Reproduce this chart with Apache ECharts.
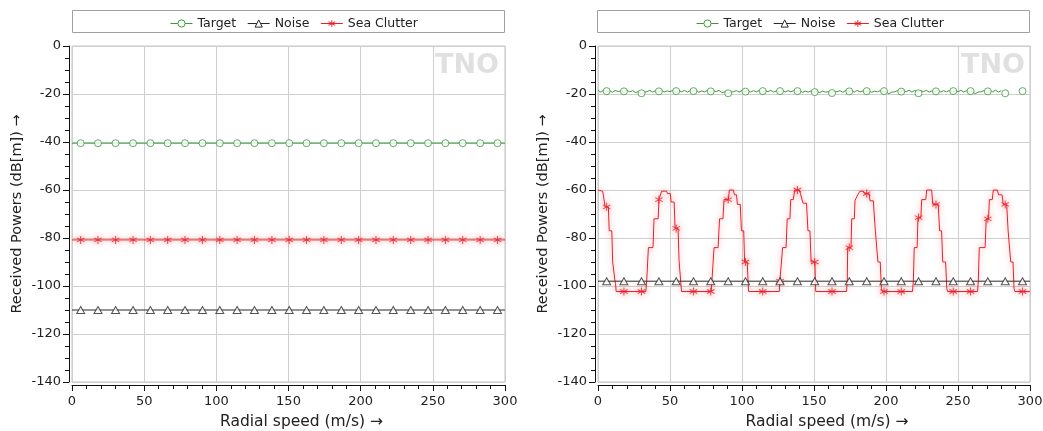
<!DOCTYPE html>
<html><head><meta charset="utf-8">
<script src="https://cdn.jsdelivr.net/npm/echarts@6/dist/echarts.min.js"></script>
<style>html,body{margin:0;padding:0;background:#fff}#c{width:1043px;height:431px}</style>
</head><body><div id="c"></div>
<script>
// ---------- DATA ----------
const legendNames = ['Target', 'Noise', 'Sea Clutter'];
const xTicks = [0, 50, 100, 150, 200, 250, 300];
const yTicks = [0, -20, -40, -60, -80, -100, -120, -140];

// speeds (m/s) where markers are drawn
const markerSpeeds = [6.0,18.0,30.2,42.3,54.3,66.3,78.3,90.4,102.4,114.4,126.4,138.5,150.5,162.5,174.5,186.6,198.6,210.6,222.6,234.7,246.7,258.7,270.7,282.8,294.8];

// ----- left chart -----
const leftLineSpeeds = [0, 300];
const leftTargetLine = [-40.5, -40.5];
const leftNoiseLine = [-110, -110];
const leftClutterLine = [-80.8, -80.8];
const leftTargetMarks = [-40.5,-40.5,-40.5,-40.5,-40.5,-40.5,-40.5,-40.5,-40.5,-40.5,-40.5,-40.5,-40.5,-40.5,-40.5,-40.5,-40.5,-40.5,-40.5,-40.5,-40.5,-40.5,-40.5,-40.5,-40.5];
const leftNoiseMarks = [-110,-110,-110,-110,-110,-110,-110,-110,-110,-110,-110,-110,-110,-110,-110,-110,-110,-110,-110,-110,-110,-110,-110,-110,-110];
const leftClutterMarks = [-80.8,-80.8,-80.8,-80.8,-80.8,-80.8,-80.8,-80.8,-80.8,-80.8,-80.8,-80.8,-80.8,-80.8,-80.8,-80.8,-80.8,-80.8,-80.8,-80.8,-80.8,-80.8,-80.8,-80.8,-80.8];

// ----- right chart -----
const rightTargetSpeeds = [0,2,4,6,8,10,12,14,16,18,20,22,24,26,28,30,32,34,36,38,40,42,44,46,48,50,52,54,56,58,60,62,64,66,68,70,72,74,76,78,80,82,84,86,88,90,92,94,96,98,100,102,104,106,108,110,112,114,116,118,120,122,124,126,128,130,132,134,136,138,140,142,144,146,148,150,152,154,156,158,160,162,164,166,168,170,172,174,176,178,180,182,184,186,188,190,192,194,196,198,200,202,204,206,208,210,212,214,216,218,220,222,224,226,228,230,232,234,236,238,240,242,244,246,248,250,252,254,256,258,260,262,264,266,268,270,272,274,276,278,280,282,284,286,288,290,292,294,296,298,300];
const rightTargetLine = [
 -18.5,-19.2,-18.4,-19.1,-18.6,-19.3,-18.5,-19.0,-18.7,-19.2,
 -18.4,-19.1,-18.6,-19.4,-19.0,-19.9,-19.3,-19.0,-18.5,-19.2,
 -18.6,-19.1,-18.4,-19.2,-18.7,-19.0,-18.5,-19.3,-18.6,-19.1,
 -18.5,-19.2,-18.6,-19.1,-18.4,-19.3,-18.7,-19.1,-18.5,-19.2,
 -18.6,-19.0,-18.5,-19.4,-19.1,-19.9,-19.2,-19.1,-18.6,-19.2,
 -18.5,-19.1,-18.4,-19.2,-18.6,-19.1,-18.5,-19.3,-18.6,-19.0,
 -18.5,-19.2,-18.7,-19.1,-18.4,-19.2,-18.6,-19.1,-18.5,-19.2,
 -18.6,-19.3,-18.8,-19.2,-18.7,-19.3,-19.0,-19.4,-18.8,-19.2,
 -19.1,-19.6,-19.0,-19.1,-18.6,-19.3,-18.5,-19.1,-18.6,-19.2,
 -18.5,-19.1,-18.7,-19.2,-18.6,-19.3,-18.8,-19.1,-18.6,-19.2,
 -19.0,-19.9,-19.2,-19.1,-18.6,-19.2,-18.5,-19.1,-18.4,-19.2,
 -18.5,-19.3,-18.6,-19.0,-18.5,-19.2,-18.7,-19.1,-18.4,-19.2,
 -18.6,-19.1,-18.5,-19.2,-18.6,-19.1,-18.5,-19.2,-18.6,-19.1,
 -19.0,-19.9,-19.2,-19.1,-18.6,-19.2,-18.5,-19.1,-18.4,-19.2,
 -18.6];
const rightTargetMarks = [-18.8,-18.9,-19.7,-18.9,-18.8,-18.8,-18.9,-19.7,-19.0,-18.8,-18.8,-18.8,-19.2,-19.6,-18.9,-18.8,-18.8,-19.0,-19.7,-18.9,-18.8,-18.8,-18.9,-19.7,-18.8];

const rightNoiseSpeeds = [0, 300];
const rightNoiseLine = [-98, -98];
const rightNoiseMarks = [-98,-98,-98,-98,-98,-98,-98,-98,-98,-98,-98,-98,-98,-98,-98,-98,-98,-98,-98,-98,-98,-98,-98,-98,-98];

const rightClutterSpeeds = [
 0,3.2,3.7,4.6,4.9,7.2,7.8,9.6,10.2,11.3,11.8,12.2,12.6,
 33.2,33.8,34.3,35.0,38.2,38.9,41.8,42.3,43.6,44.2,47.7,48.2,50.2,50.8,52.9,53.5,55.6,56.3,57.4,58.0,
 78.6,79.1,79.8,80.6,83.4,84.4,86.8,87.5,90.6,91.2,94.0,94.8,96.2,96.8,98.8,99.6,101.2,101.8,103.6,104.6,
 125.9,126.3,127.6,128.2,130.6,131.4,133.3,133.8,135.6,136.6,139.8,140.6,141.6,142.4,144.8,145.8,147.2,148.0,150.6,151.2,
 172.6,173.1,173.4,175.7,176.2,178.0,178.5,179.8,180.4,181.5,181.9,184.3,185.0,188.3,188.9,191.2,192.6,193.6,194.4,196.0,196.8,197.5,
 218.4,219.0,219.6,221.6,222.2,224.2,224.8,227.6,228.3,231.7,232.5,236.3,237.2,238.6,239.4,241.4,242.2,242.8,
 263.6,264.1,264.8,268.8,269.6,271.2,271.8,273.8,274.5,277.3,278.2,280.6,281.4,283.8,284.8,285.8,286.6,288.2,288.9,289.5,300];
const rightClutterLine = [
 -60,-60.5,-62,-62,-67,-67,-77,-77,-90,-90,-98,-99,-102.3,
 -102.3,-98,-98,-84,-84,-72,-72,-64,-64,-60.5,-60.5,-61.5,-61.5,-65,-65,-76,-76,-89.5,-89.5,-102.3,
 -102.3,-98,-98,-84,-84,-72,-72,-64,-64,-60,-60,-62,-62,-66,-66,-77,-77,-90,-90,-102.3,
 -102.3,-98,-98,-84,-84,-72,-72,-64,-64,-60,-60,-61.5,-61.5,-65.5,-65.5,-77,-77,-90,-90,-102.3,
 -102.3,-98,-84,-84,-72,-72,-64.3,-64.3,-62,-62,-60.5,-60.5,-61.5,-61.5,-64.5,-64.5,-77,-77,-90,-90,-101,-102.3,
 -102.3,-98,-84,-84,-71.5,-71.5,-64,-64,-60,-60,-66,-66,-77,-77,-90,-90,-101,-102.3,
 -102.3,-98,-84,-84,-72,-72,-64,-64,-60,-60,-62,-62,-66,-66,-77,-77,-90,-90,-101,-102.3,-102.3];
const rightClutterMarks = [-67,-102.3,-102.3,-64,-76,-102.3,-102.3,-64,-90,-102.3,-98,-60,-90,-102.3,-84,-61.5,-102.3,-102.3,-71.5,-66,-102.3,-102.3,-72,-66,-102.3];

// ---------- STYLE ----------
const FONT = 'DejaVu Sans';
const GREEN = '#3c9a3c', BLACK = '#2a2a2a', RED = '#e8202a';
const STAR = 'path://M4.4 0H5.6V10H4.4Z M0.97 8.02L0.37 6.98L9.03 1.98L9.63 3.02Z M9.63 6.98L9.03 8.02L0.37 3.02L0.97 1.98Z';

function zip(xs, ys) { return xs.map((x, i) => [x, ys[i]]); }

function makeSeries(g, d) {
  const base = { xAxisIndex: g, yAxisIndex: g, silent: true, animation: false, emphasis: { disabled: true } };
  const glow = { shadowBlur: 6, shadowColor: 'rgba(255,40,40,0.55)' };
  const hollow = c => ({ color: '#fff', borderColor: c, borderWidth: 1 });
  return [
    Object.assign({ type: 'line', name: 'Sea Clutter', data: zip(d.cs, d.cl), symbol: STAR, showSymbol: false,
      lineStyle: Object.assign({ color: RED, width: 1 }, glow), itemStyle: { color: RED }, z: 3 }, base),
    Object.assign({ type: 'scatter', name: 'Sea Clutter', data: zip(markerSpeeds, d.cm), symbol: STAR, symbolSize: 8,
      itemStyle: Object.assign({ color: RED }, glow), z: 4 }, base),
    Object.assign({ type: 'line', name: 'Noise', data: zip(d.ns, d.nl), symbol: 'triangle', showSymbol: false,
      lineStyle: { color: BLACK, width: 1 }, itemStyle: hollow(BLACK), z: 3 }, base),
    Object.assign({ type: 'scatter', name: 'Noise', data: zip(markerSpeeds, d.nm), symbol: 'triangle', symbolSize: [8, 7],
      itemStyle: hollow(BLACK), z: 4 }, base),
    Object.assign({ type: 'line', name: 'Target', data: zip(d.ts, d.tl), symbol: 'circle', showSymbol: false,
      lineStyle: { color: GREEN, width: 1 }, itemStyle: hollow(GREEN), z: 3 }, base),
    Object.assign({ type: 'scatter', name: 'Target', data: zip(markerSpeeds, d.tm), symbol: 'circle', symbolSize: 7,
      itemStyle: hollow(GREEN), z: 4 }, base)
  ];
}

const leftData = { ts: leftLineSpeeds, tl: leftTargetLine, tm: leftTargetMarks,
  ns: leftLineSpeeds, nl: leftNoiseLine, nm: leftNoiseMarks,
  cs: leftLineSpeeds, cl: leftClutterLine, cm: leftClutterMarks };
const rightData = { ts: rightTargetSpeeds, tl: rightTargetLine, tm: rightTargetMarks,
  ns: rightNoiseSpeeds, nl: rightNoiseLine, nm: rightNoiseMarks,
  cs: rightClutterSpeeds, cl: rightClutterLine, cm: rightClutterMarks };

const grids = [
  { left: 72, top: 46, width: 433, height: 336 },
  { left: 598, top: 46, width: 432, height: 336 }
];

function xAxis(g) {
  return {
    gridIndex: g, type: 'value', min: xTicks[0], max: xTicks[xTicks.length - 1], interval: 50, offset: 3,
    name: 'Radial speed (m/s) →', nameLocation: 'middle', nameGap: 29,
    nameTextStyle: { fontFamily: FONT, fontSize: 15.5, color: '#222', padding: [0, 0, 0, 26] },
    axisLine: { show: true, onZero: false, lineStyle: { color: '#111', width: 1 } },
    axisTick: { show: true, length: 6, lineStyle: { color: '#111' } },
    minorTick: { show: true, splitNumber: 5, length: 4, lineStyle: { color: '#111' } },
    axisLabel: { fontFamily: FONT, fontSize: 13, color: '#222', margin: 10 },
    splitLine: { show: true, lineStyle: { color: '#cfcfcf', width: 1 } }
  };
}
function yAxis(g) {
  return {
    gridIndex: g, type: 'value', min: yTicks[yTicks.length - 1], max: yTicks[0], interval: 20, offset: 3,
    name: 'Received Powers (dB[m]) →', nameLocation: 'middle', nameGap: 44, nameRotate: 90,
    nameTextStyle: { fontFamily: FONT, fontSize: 14.5, color: '#222' },
    axisLine: { show: true, onZero: false, lineStyle: { color: '#111', width: 1 } },
    axisTick: { show: true, length: 6, lineStyle: { color: '#111' } },
    minorTick: { show: true, splitNumber: 4, length: 4, lineStyle: { color: '#111' } },
    axisLabel: { fontFamily: FONT, fontSize: 13, color: '#222', margin: 8 },
    splitLine: { show: true, lineStyle: { color: '#cfcfcf', width: 1 } }
  };
}

function legend(left) {
  return {
    data: legendNames, left: left, top: 12, itemWidth: 22, itemHeight: 9, itemGap: 11,
    selectedMode: false,
    textStyle: { fontFamily: FONT, fontSize: 12.5, color: '#222' },
    lineStyle: { width: 1, shadowBlur: 0, shadowColor: 'rgba(0,0,0,0)' },
    itemStyle: { borderWidth: 1, shadowBlur: 0, shadowColor: 'rgba(0,0,0,0)' }
  };
}

const chart = echarts.init(document.getElementById('c'), null, { renderer: 'canvas' });
chart.setOption({
  animation: false,
  backgroundColor: '#fff',
  grid: grids.map(g => Object.assign({ show: true, borderColor: '#c4c4c4', borderWidth: 1, backgroundColor: 'transparent',
    containLabel: false, outerBoundsMode: 'none' }, g)),
  xAxis: [xAxis(0), xAxis(1)],
  yAxis: [yAxis(0), yAxis(1)],
  legend: [legend(165), legend(691)],
  graphic: [
    { type: 'rect', z: -1, shape: { x: 72.5, y: 10.5, width: 432, height: 22 }, style: { fill: '#fff', stroke: '#a0a0a0', lineWidth: 1 } },
    { type: 'rect', z: -1, shape: { x: 597.5, y: 10.5, width: 432, height: 22 }, style: { fill: '#fff', stroke: '#a0a0a0', lineWidth: 1 } },
    { type: 'text', z: 1, left: 435, top: 52, style: { text: 'TNO', fill: '#e0e0e0', font: 'bold 27px "DejaVu Sans"' } },
    { type: 'text', z: 1, left: 961, top: 52, style: { text: 'TNO', fill: '#e0e0e0', font: 'bold 27px "DejaVu Sans"' } }
  ],
  series: makeSeries(0, leftData).concat(makeSeries(1, rightData))
});
</script></body></html>
